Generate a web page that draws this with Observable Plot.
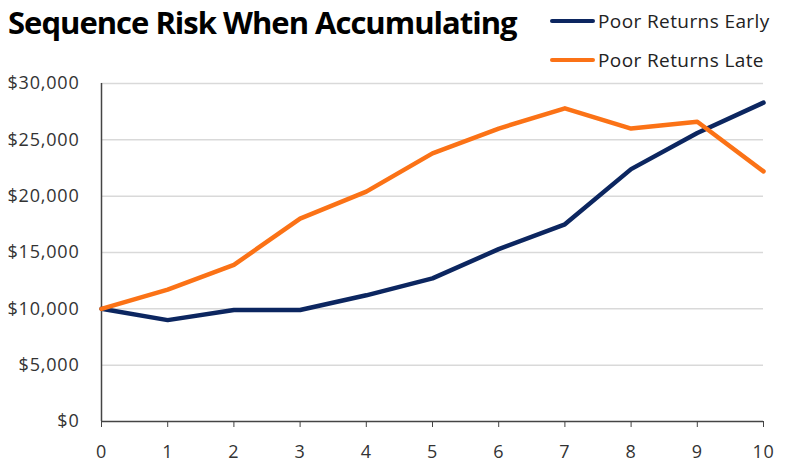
<!DOCTYPE html>
<html>
<head>
<meta charset="utf-8">
<script src="https://cdn.jsdelivr.net/npm/d3@7"></script>
<script src="https://cdn.jsdelivr.net/npm/@observablehq/plot@0.6"></script>
<style>
  body { margin: 0; background: #fff; }
  #wrap { position: relative; width: 789px; height: 474px; font-family: "Open Sans", "Noto Sans", sans-serif; }
  #title { position: absolute; left: 8px; top: 1px; font-size: 31px; line-height: 42px; font-weight: 700; color: #000; letter-spacing: -1px; white-space: nowrap; }
  .leg { position: absolute; left: 550px; font-size: 19px; line-height: 26px; color: #222; letter-spacing: 0.4px; white-space: nowrap; display: flex; align-items: center; }
  .leg span.sw { display: inline-block; width: 45px; height: 4.5px; margin-right: 3px; border-radius: 2px; }
</style>
</head>
<body>
<div id="wrap">
  <div id="title">Sequence Risk When Accumulating</div>
  <div class="leg" style="top:8px"><span class="sw" style="background:#0c2660"></span>Poor Returns Early</div>
  <div class="leg" style="top:47px"><span class="sw" style="background:#fb7216"></span>Poor Returns Late</div>
  <div id="chart"></div>
</div>
<script>
const years = [0, 1, 2, 3, 4, 5, 6, 7, 8, 9, 10];
const poorEarly = [10000, 9000, 9900, 9900, 11200, 12700, 15300, 17500, 22400, 25600, 28300];
const poorLate = [10000, 11700, 13900, 18000, 20400, 23800, 26000, 27800, 26000, 26600, 22200];
const seriesNames = ["Poor Returns Early", "Poor Returns Late"];
const seriesColors = ["#0c2660", "#fb7216"];
const yTicks = [0, 5000, 10000, 15000, 20000, 25000, 30000];

const data = [];
years.forEach((yr, i) => {
  data.push({year: yr, value: poorEarly[i], series: seriesNames[0]});
  data.push({year: yr, value: poorLate[i], series: seriesNames[1]});
});

const chart = Plot.plot({
  width: 789,
  height: 474,
  marginLeft: 101,
  marginRight: 26,
  marginTop: 83,
  marginBottom: 53,
  style: {fontFamily: '"Open Sans", "Noto Sans", sans-serif', fontSize: "18px", color: "#333", background: "transparent", letterSpacing: "0.8px"},
  x: {domain: [0, 10], ticks: years, label: null},
  y: {domain: [0, 30000], ticks: yTicks, label: null},
  color: {domain: seriesNames, range: seriesColors},
  marks: [
    Plot.gridY(yTicks.filter(d => d > 0), {stroke: "#d9d9d9", strokeOpacity: 1, strokeWidth: 1.5}),
    Plot.axisY({ticks: yTicks, tickSize: 0, tickPadding: 22, tickFormat: d3.format("$,"), fill: "#333", fontSize: 18}),
    Plot.axisX({ticks: years, tickSize: 6, tickPadding: 18, stroke: "#444", fill: "#333", fontSize: 18}),
    Plot.ruleX([0], {stroke: "#444", strokeWidth: 1.5}),
    Plot.ruleY([0], {stroke: "#444", strokeWidth: 1.5}),
    Plot.line(data, {x: "year", y: "value", z: "series", stroke: "series", strokeWidth: 4.5, curve: "linear", strokeLinejoin: "round"})
  ]
});
document.getElementById("chart").appendChild(chart);
</script>
</body>
</html>
